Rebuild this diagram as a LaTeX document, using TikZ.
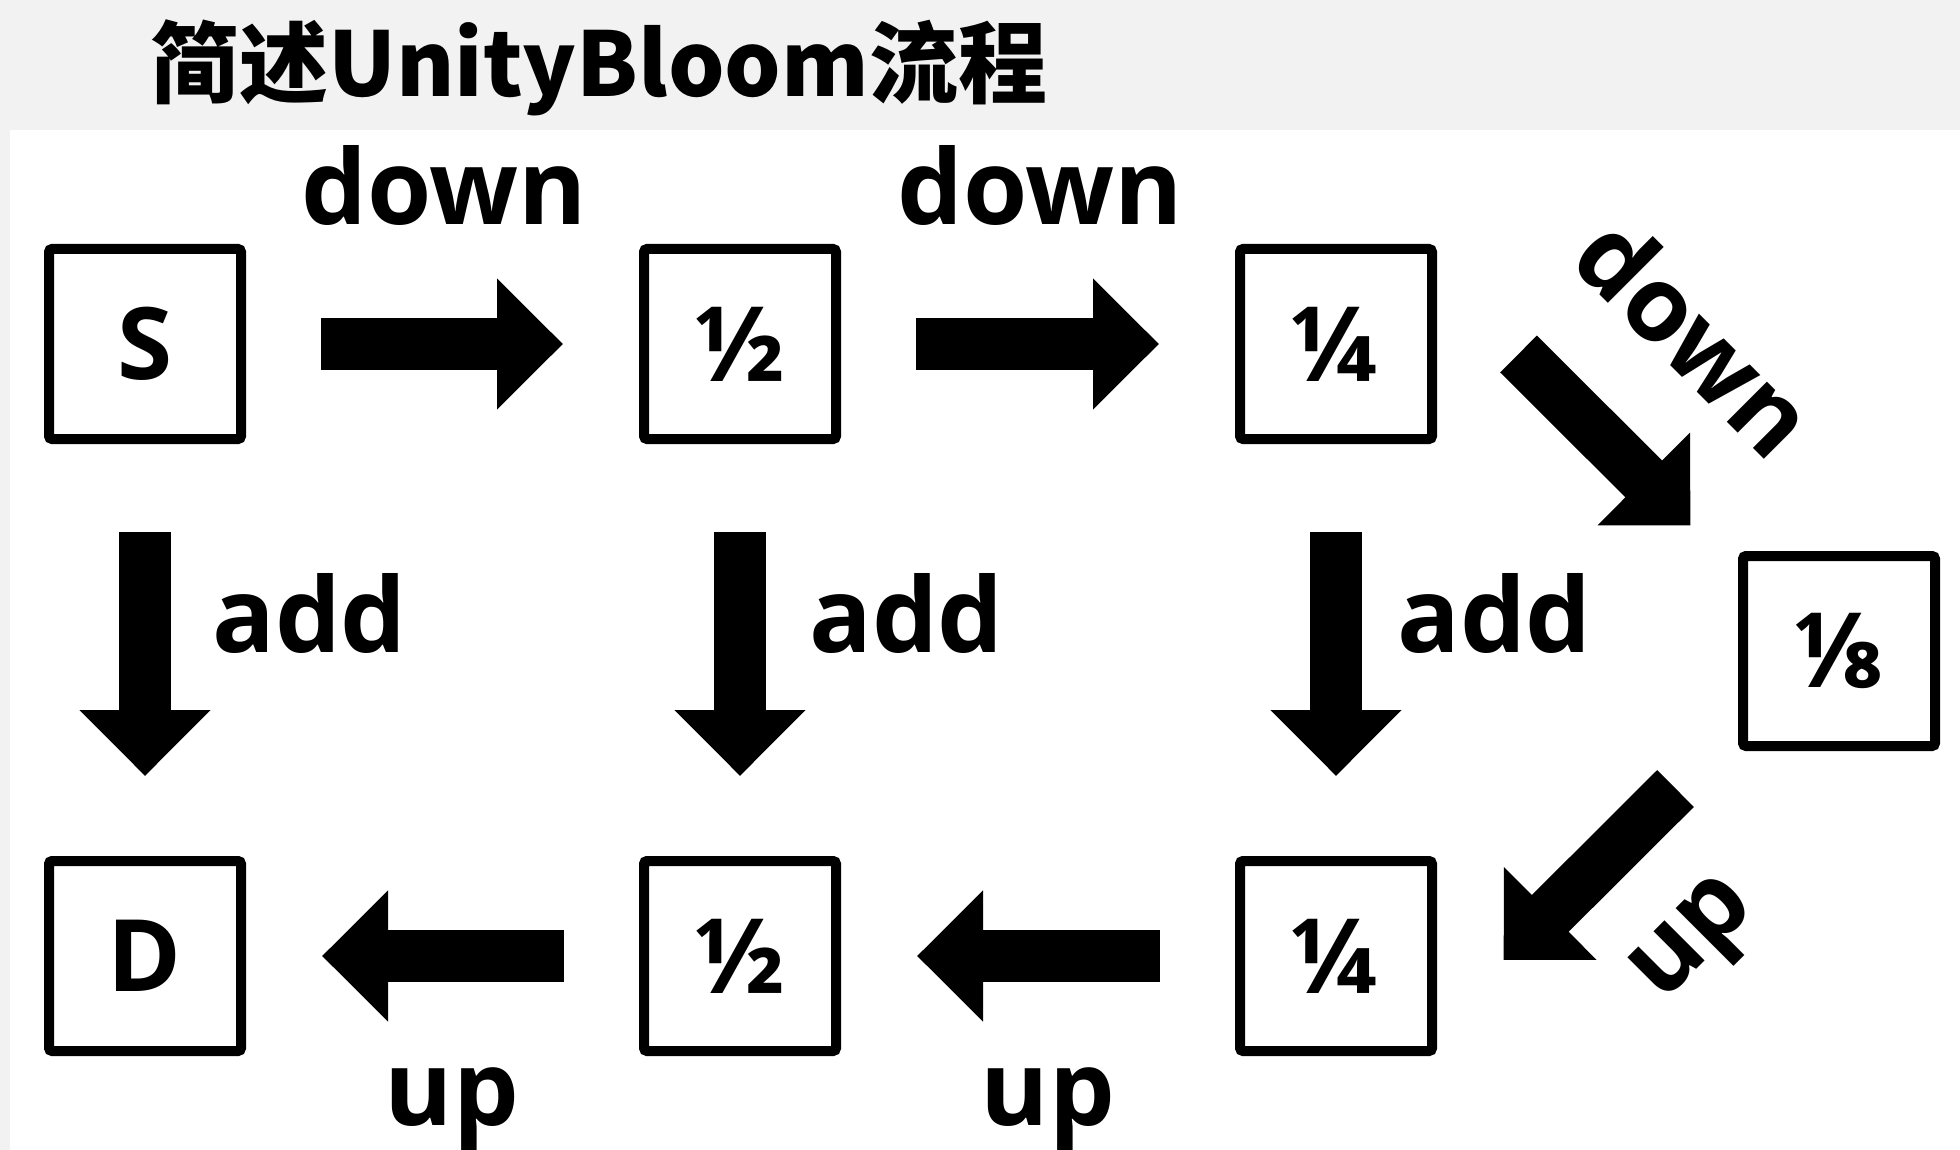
\documentclass[tikz,border=0pt]{standalone}
\usepackage{fontspec}
\setmainfont{Open Sans}
\newfontfamily\cjk{Noto Sans CJK SC}
\usetikzlibrary{arrows.meta,calc}
\definecolor{panelgray}{HTML}{F2F2F2}
\begin{document}
\begin{tikzpicture}[x=1pt,y=1pt,
  box/.style={draw=black, line width=10pt, minimum width=192pt, minimum height=190pt,
    inner sep=0pt, rounded corners=3pt, font=\bfseries\fontsize{100}{105}\selectfont},
  fracbox/.style={box, font=\bfseries\fontsize{104}{110}\selectfont},
  barrow/.style={line width=52pt, -{Triangle[width=127pt,length=66pt]}},
  lbl/.style={font=\bfseries\fontsize{104}{110}\selectfont, inner sep=0pt}
]
\useasboundingbox (0,0) rectangle (1960,-1150);
\fill[panelgray] (0,0) rectangle (1960,-1150);
\fill[white] (10,-130) rectangle (1960,-1150);

\node[anchor=base west, inner sep=0pt, font=\cjk\bfseries\fontsize{89}{95}\selectfont] (title) at (150,-97) {简述UnityBloom流程};

\node[box] (S)  at (145,-344)  {S};
\node[fracbox] (h1) at (740,-344)  {½};
\node[fracbox] (q1) at (1336,-344) {¼};
\node[fracbox] (e)  at (1839,-651) {⅛};
\node[fracbox] (q2) at (1336,-956) {¼};
\node[fracbox] (h2) at (740,-956)  {½};
\node[box] (D)  at (145,-956)  {D};

% down
\draw[barrow, shorten <=75pt, shorten >=76pt] (S) -- (h1);
\draw[barrow, shorten <=75pt, shorten >=76pt] (h1) -- (q1);
\draw[barrow] ($(q1.east)+(81.5,-10)$) -- ($(e.north west)+(-47.5,25.5)$);
% up
\draw[barrow] ($(e.south west)+(-62.5,-37.5)$) -- ($(q2.east)+(66.5,-4)$);
\draw[barrow, shorten <=75pt, shorten >=76pt] (q2) -- (h2);
\draw[barrow, shorten <=75pt, shorten >=76pt] (h2) -- (D);
% add
\draw[barrow, shorten <=88pt, shorten >=80pt] (S) -- (D);
\draw[barrow, shorten <=88pt, shorten >=80pt] (h1) -- (h2);
\draw[barrow, shorten <=88pt, shorten >=80pt] (q1) -- (q2);

\node[lbl, anchor=base] (ld1) at (444,-225) {down};
\node[lbl, anchor=base] (ld2) at (1040,-225) {down};
\node[lbl, rotate=-45] (ld3) at (1696,-336) {down};
\node[lbl, anchor=base west] (la1) at (212,-652) {add};
\node[lbl, anchor=base west] (la2) at (809,-652) {add};
\node[lbl, anchor=base west] (la3) at (1397,-652) {add};
\node[lbl, rotate=45] (lu3) at (1698,-944) {up};
\node[lbl, anchor=base] (lu1) at (452,-1125) {up};
\node[lbl, anchor=base] (lu2) at (1048,-1125) {up};
\end{tikzpicture}
\end{document}
